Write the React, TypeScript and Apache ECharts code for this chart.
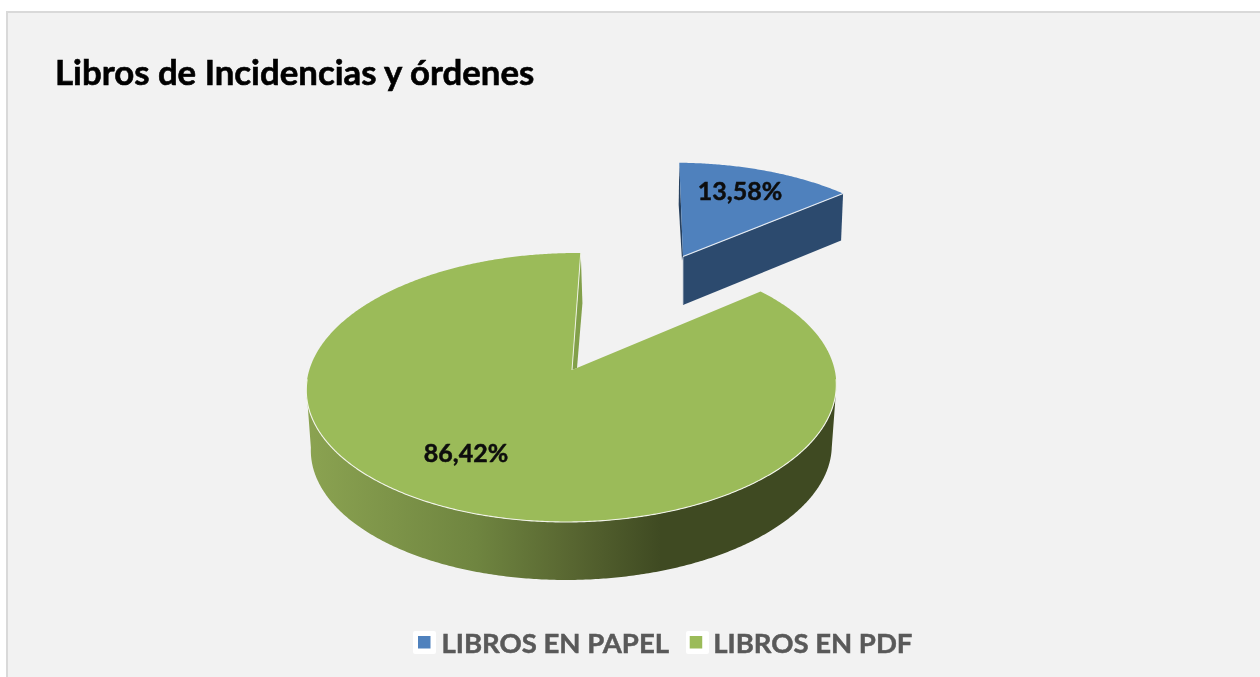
import React, { useEffect, useRef } from "react";
import * as echarts from "echarts";

const titleText = "Libros de Incidencias y órdenes";
const categories = ["LIBROS EN PAPEL", "LIBROS EN PDF"];
const shares = [13.58, 86.42];
const topColors = ["#4f81bd", "#9bbb59"];
const FONT = "Lato, Carlito, Calibri, sans-serif";

// Perspective view of the pie disc (a true circle seen through a camera).
const START_DEG = -89;
const HUB = { x: 572, y: 370 };
const SEMI_X = 262.7;
const SEMI_Y = 132.2;
const TILT = 0.13;
const SHEAR = -0.04;
const LOWER = { scale: 0.983, drop: 60.6 };
// The exploded slice is the same view, further away and sheared.
const BLUE_HUB = { x: 683, y: 256.5 };
const BLUE_M = { a: 0.89, b: 0.0625, d: 0.8013 };

const rad = (d: number) => (d * Math.PI) / 180;
const rim = (deg: number, scale = 1) => {
  const t = rad(deg);
  const w = 1 - TILT * Math.sin(t);
  return [(scale * SEMI_X * Math.cos(t)) / w, (scale * SEMI_Y * Math.sin(t)) / w];
};
const greenPt = (deg: number) => {
  const [x, y] = rim(deg);
  return [HUB.x + x + SHEAR * y, HUB.y + y];
};
const greenLow = (deg: number) => {
  const [x, y] = rim(deg, LOWER.scale);
  return [HUB.x + x + SHEAR * y, HUB.y + LOWER.drop + y];
};
const bluePt = (deg: number) => {
  const [x, y] = rim(deg);
  return [BLUE_HUB.x + BLUE_M.a * x + BLUE_M.b * y, BLUE_HUB.y + BLUE_M.d * y];
};
const sweep = (from: number, to: number, f: (d: number) => number[]) => {
  const out: number[][] = [];
  const n = Math.ceil(Math.abs(to - from) * 2);
  for (let i = 0; i <= n; i++) out.push(f(from + ((to - from) * i) / n));
  return out;
};
const label = (value: number) => value.toFixed(2).replace(".", ",") + "%";
const labelStyle = (text: string, x: number, y: number) => ({
  type: "text",
  silent: true,
  style: {
    text,
    x,
    y,
    align: "center",
    verticalAlign: "middle",
    fill: "#0d0d0d",
    stroke: "#0d0d0d",
    lineWidth: 0.5,
    font: `bold 25px ${FONT}`,
  },
});

const renderPaper = (_p: any, api: any) => {
  const end = START_DEG + (api.value(0) / 100) * 360;
  const hub = [BLUE_HUB.x, BLUE_HUB.y];
  const a = bluePt(START_DEG);
  const b = bluePt(end);
  return {
    type: "group",
    children: [
      {
        type: "polygon",
        shape: { points: [hub, b, [b[0] - 2, b[1] + 47], [hub[0], hub[1] + 48.5]] },
        style: { fill: "#2c4a6e" },
      },
      {
        type: "polygon",
        shape: { points: [a, [a[0] - 0.6, a[1] + 42], [hub[0] - 1, hub[1] + 4], hub] },
        style: { fill: "#26405f" },
      },
      {
        type: "line",
        shape: { x1: hub[0], y1: hub[1], x2: hub[0], y2: hub[1] + 48 },
        style: { stroke: "#c4ccd6", lineWidth: 0.8 },
      },
      {
        type: "polygon",
        shape: { points: [hub, ...sweep(START_DEG, end, bluePt)] },
        style: { fill: topColors[0] },
      },
      {
        type: "line",
        shape: { x1: hub[0], y1: hub[1], x2: b[0], y2: b[1] },
        style: { stroke: "#e4eaf2", lineWidth: 1.2 },
      },
      labelStyle(label(api.value(0)), 740, 190),
    ],
  };
};

const renderPdf = (_p: any, api: any) => {
  const from = START_DEG + (shares[0] / 100) * 360;
  const to = from + (api.value(0) / 100) * 360;
  const hub = [HUB.x, HUB.y];
  const s = greenPt(to);
  const tangentDeg = (Math.asin(TILT) * 180) / Math.PI;
  return {
    type: "group",
    children: [
      {
        type: "polygon",
        shape: {
          points: [
            greenPt(tangentDeg),
            ...sweep(tangentDeg, 180 - tangentDeg, greenPt),
            ...sweep(180 - tangentDeg, tangentDeg, greenLow),
          ],
        },
        style: {
          fill: new echarts.graphic.LinearGradient(0, 0, 1, 0, [
            { offset: 0, color: "#8ba351" },
            { offset: 0.32, color: "#6f8540" },
            { offset: 0.5, color: "#586631" },
            { offset: 0.67, color: "#3f4a22" },
            { offset: 1, color: "#3f4a22" },
          ]),
        },
      },
      {
        type: "polygon",
        shape: {
          points: [s, [s[0] + 1.7, s[1] + 50], [hub[0] + 5, hub[1] - 2], hub],
        },
        style: { fill: "#82a04a" },
      },
      {
        type: "polygon",
        shape: { points: [hub, ...sweep(from, to, greenPt)] },
        style: { fill: topColors[1] },
      },
      {
        type: "polyline",
        shape: { points: sweep(176, 4, greenPt) },
        style: { fill: "none", stroke: "#f2f4ea", lineWidth: 1.1 },
      },
      {
        type: "line",
        shape: { x1: hub[0], y1: hub[1], x2: s[0], y2: s[1] },
        style: { stroke: "#eef2e2", lineWidth: 1 },
      },
      labelStyle(label(api.value(0)), 466, 452),
    ],
  };
};

export default function App() {
  const ref = useRef<HTMLDivElement>(null);
  useEffect(() => {
    const chart = echarts.init(ref.current!, undefined, { renderer: "svg" });
    chart.setOption({
      animation: false,
      graphic: [
        {
          type: "rect",
          silent: true,
          z: -10,
          shape: { x: 7, y: 12, width: 1300, height: 700 },
          style: { fill: "#f2f2f2", stroke: "#d9d9d9", lineWidth: 2 },
        },
        {
          type: "rect",
          silent: true,
          z: -9,
          shape: { x: 413, y: 631, width: 23, height: 23, r: 2 },
          style: { fill: "#ffffff" },
        },
        {
          type: "rect",
          silent: true,
          z: -9,
          shape: { x: 686, y: 631, width: 23, height: 23, r: 2 },
          style: { fill: "#ffffff" },
        },
      ],
      title: {
        text: titleText,
        left: 55,
        top: 54,
        padding: 0,
        textStyle: {
          fontFamily: FONT,
          fontWeight: "bold",
          fontSize: 34.8,
          color: "#000000",
          textBorderColor: "#000000",
          textBorderWidth: 0.6,
        },
      },
      legend: {
        left: 413,
        top: 623,
        icon: "rect",
        itemWidth: 12.5,
        itemHeight: 12.5,
        itemGap: 20.5,
        itemStyle: { borderWidth: 0 },
        textStyle: {
          fontFamily: FONT,
          fontWeight: "bold",
          fontSize: 27.5,
          color: "#595959",
          textBorderColor: "#595959",
          textBorderWidth: 0.5,
          padding: [0, 0, 0, 6],
        },
        data: categories,
      },
      xAxis: { show: false },
      yAxis: { show: false },
      series: [
        {
          type: "custom",
          name: categories[0],
          coordinateSystem: "none",
          itemStyle: { color: topColors[0] },
          data: [[shares[0]]],
          renderItem: renderPaper,
        },
        {
          type: "custom",
          name: categories[1],
          coordinateSystem: "none",
          itemStyle: { color: topColors[1] },
          data: [[shares[1]]],
          renderItem: renderPdf,
        },
      ],
    });
    return () => chart.dispose();
  }, []);
  return (
    <div
      ref={ref}
      style={{ position: "fixed", left: 0, top: 0, width: 1260, height: 677 }}
    />
  );
}
